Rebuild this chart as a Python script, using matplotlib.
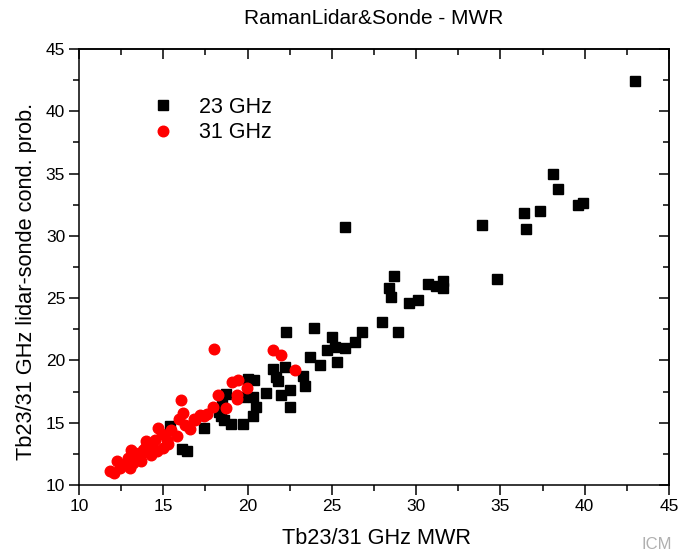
import matplotlib
matplotlib.use("Agg")
import matplotlib.pyplot as plt
from matplotlib.ticker import MultipleLocator

plt.rcParams['font.family'] = ['Liberation Sans', 'DejaVu Sans']

# 23 GHz (black squares)
x23 = [43.0, 38.1, 38.4, 37.35, 36.4, 36.5, 39.6, 39.9, 33.9, 34.8, 25.8, 28.7, 28.4, 28.5,
       30.7, 31.2, 31.6, 31.6, 29.6, 30.1, 28.0, 28.9, 26.8, 25.0, 25.2, 25.8, 26.4, 24.7,
       23.95, 22.3, 23.7, 24.3, 25.3, 22.0, 22.5, 22.5, 21.5, 21.7, 21.8, 22.2, 23.3, 23.4,
       21.1, 20.0, 20.4, 20.3, 20.5, 20.3, 19.75, 19.7, 18.7, 18.5, 18.3, 18.4, 18.6, 19.0,
       17.4, 15.4, 16.1, 16.4]
y23 = [42.4, 35.0, 33.8, 32.0, 31.8, 30.55, 32.5, 32.6, 30.9, 26.5, 30.7, 26.8, 25.8, 25.1,
       26.1, 26.0, 26.4, 25.8, 24.6, 24.85, 23.1, 22.3, 22.3, 21.9, 21.1, 21.0, 21.5, 20.8,
       22.6, 22.3, 20.25, 19.6, 19.85, 17.2, 17.6, 16.3, 19.3, 18.7, 18.35, 19.5, 18.75, 17.95,
       17.4, 18.5, 18.45, 17.1, 16.3, 15.55, 17.1, 14.9, 17.3, 16.5, 15.9, 15.5, 15.2, 14.9,
       14.55, 14.7, 12.9, 12.75]

# 31 GHz (red circles)
x31 = [18.0, 21.5, 22.0, 22.8, 19.45, 19.95, 19.35, 19.4, 18.25, 17.95, 18.7, 16.05, 16.15,
       15.95, 17.2, 17.4, 16.9, 16.6, 14.7, 15.45, 15.2, 15.8, 15.3, 14.1, 14.4, 14.6, 13.8,
       13.1, 13.4, 12.9, 13.7, 13.0, 12.25, 12.45, 11.85, 12.05, 14.3, 13.6, 14.0, 14.9,
       15.0, 13.3, 13.9, 14.5, 16.3, 17.6, 16.8, 19.1, 13.2, 12.6]
y31 = [20.9, 20.8, 20.4, 19.2, 18.4, 17.8, 17.2, 16.9, 17.2, 16.3, 16.2, 16.8, 15.75,
       15.3, 15.6, 15.5, 15.2, 14.5, 14.55, 14.4, 13.6, 13.9, 13.3, 13.2, 12.95, 12.7, 12.8,
       12.8, 12.4, 12.15, 11.9, 11.35, 11.95, 11.35, 11.15, 11.0, 12.4, 12.3, 13.5, 14.1,
       13.0, 12.6, 13.0, 13.6, 14.8, 15.7, 15.3, 18.3, 11.8, 11.6]

fig = plt.figure(figsize=(6.8, 5.53), dpi=100)
ax = fig.add_axes([79/680, 68/553, 590/680, 436/553])

ax.plot(x23, y23, 's', color='black', markersize=6.6, linestyle='none', label='23 GHz')
ax.plot(x31, y31, 'o', color='#ff0000', markersize=7.6, linestyle='none', label='31 GHz')

ax.set_xlim(10, 45)
ax.set_ylim(10, 45)
ax.xaxis.set_major_locator(MultipleLocator(5))
ax.xaxis.set_minor_locator(MultipleLocator(2.5))
ax.yaxis.set_major_locator(MultipleLocator(5))
ax.yaxis.set_minor_locator(MultipleLocator(2.5))
ax.tick_params(which='major', direction='out', length=7, width=1.1, labelsize=12.5, pad=3)
ax.tick_params(which='minor', direction='out', length=4, width=1.1)
for s in ax.spines.values():
    s.set_linewidth(1.1)

top = ax.secondary_xaxis('top')
top.xaxis.set_major_locator(MultipleLocator(5))
top.xaxis.set_minor_locator(MultipleLocator(2.5))
top.tick_params(which='major', direction='in', length=7, width=1.1, labeltop=False)
top.tick_params(which='minor', direction='in', length=4, width=1.1)
right = ax.secondary_yaxis('right')
right.yaxis.set_major_locator(MultipleLocator(5))
right.yaxis.set_minor_locator(MultipleLocator(2.5))
right.tick_params(which='major', direction='in', length=7, width=1.1, labelright=False)
right.tick_params(which='minor', direction='in', length=4, width=1.1)
for sa in (top, right):
    for s in sa.spines.values():
        s.set_linewidth(1.1)

ax.legend(loc='upper left', bbox_to_anchor=(0.099, 0.91), frameon=False, fontsize=15.5,
          handletextpad=0.85, labelspacing=0.2, borderaxespad=0, handlelength=1.6)

fig.text(374/680, 1 - 18/553, 'RamanLidar&Sonde - MWR', ha='center', va='center', fontsize=15)
fig.text(376/680, 1 - 539/553, 'Tb23/31 GHz MWR', ha='center', va='center', fontsize=15.6)
fig.text(27/680, 1 - 281/553, 'Tb23/31 GHz lidar-sonde cond. prob.', ha='center', va='center',
         rotation=90, fontsize=15.7)
fig.text(672/680, 1/553, 'ICM', ha='right', va='bottom', fontsize=12, color='#b0b0b0')

fig.savefig('out.png', dpi=100)
